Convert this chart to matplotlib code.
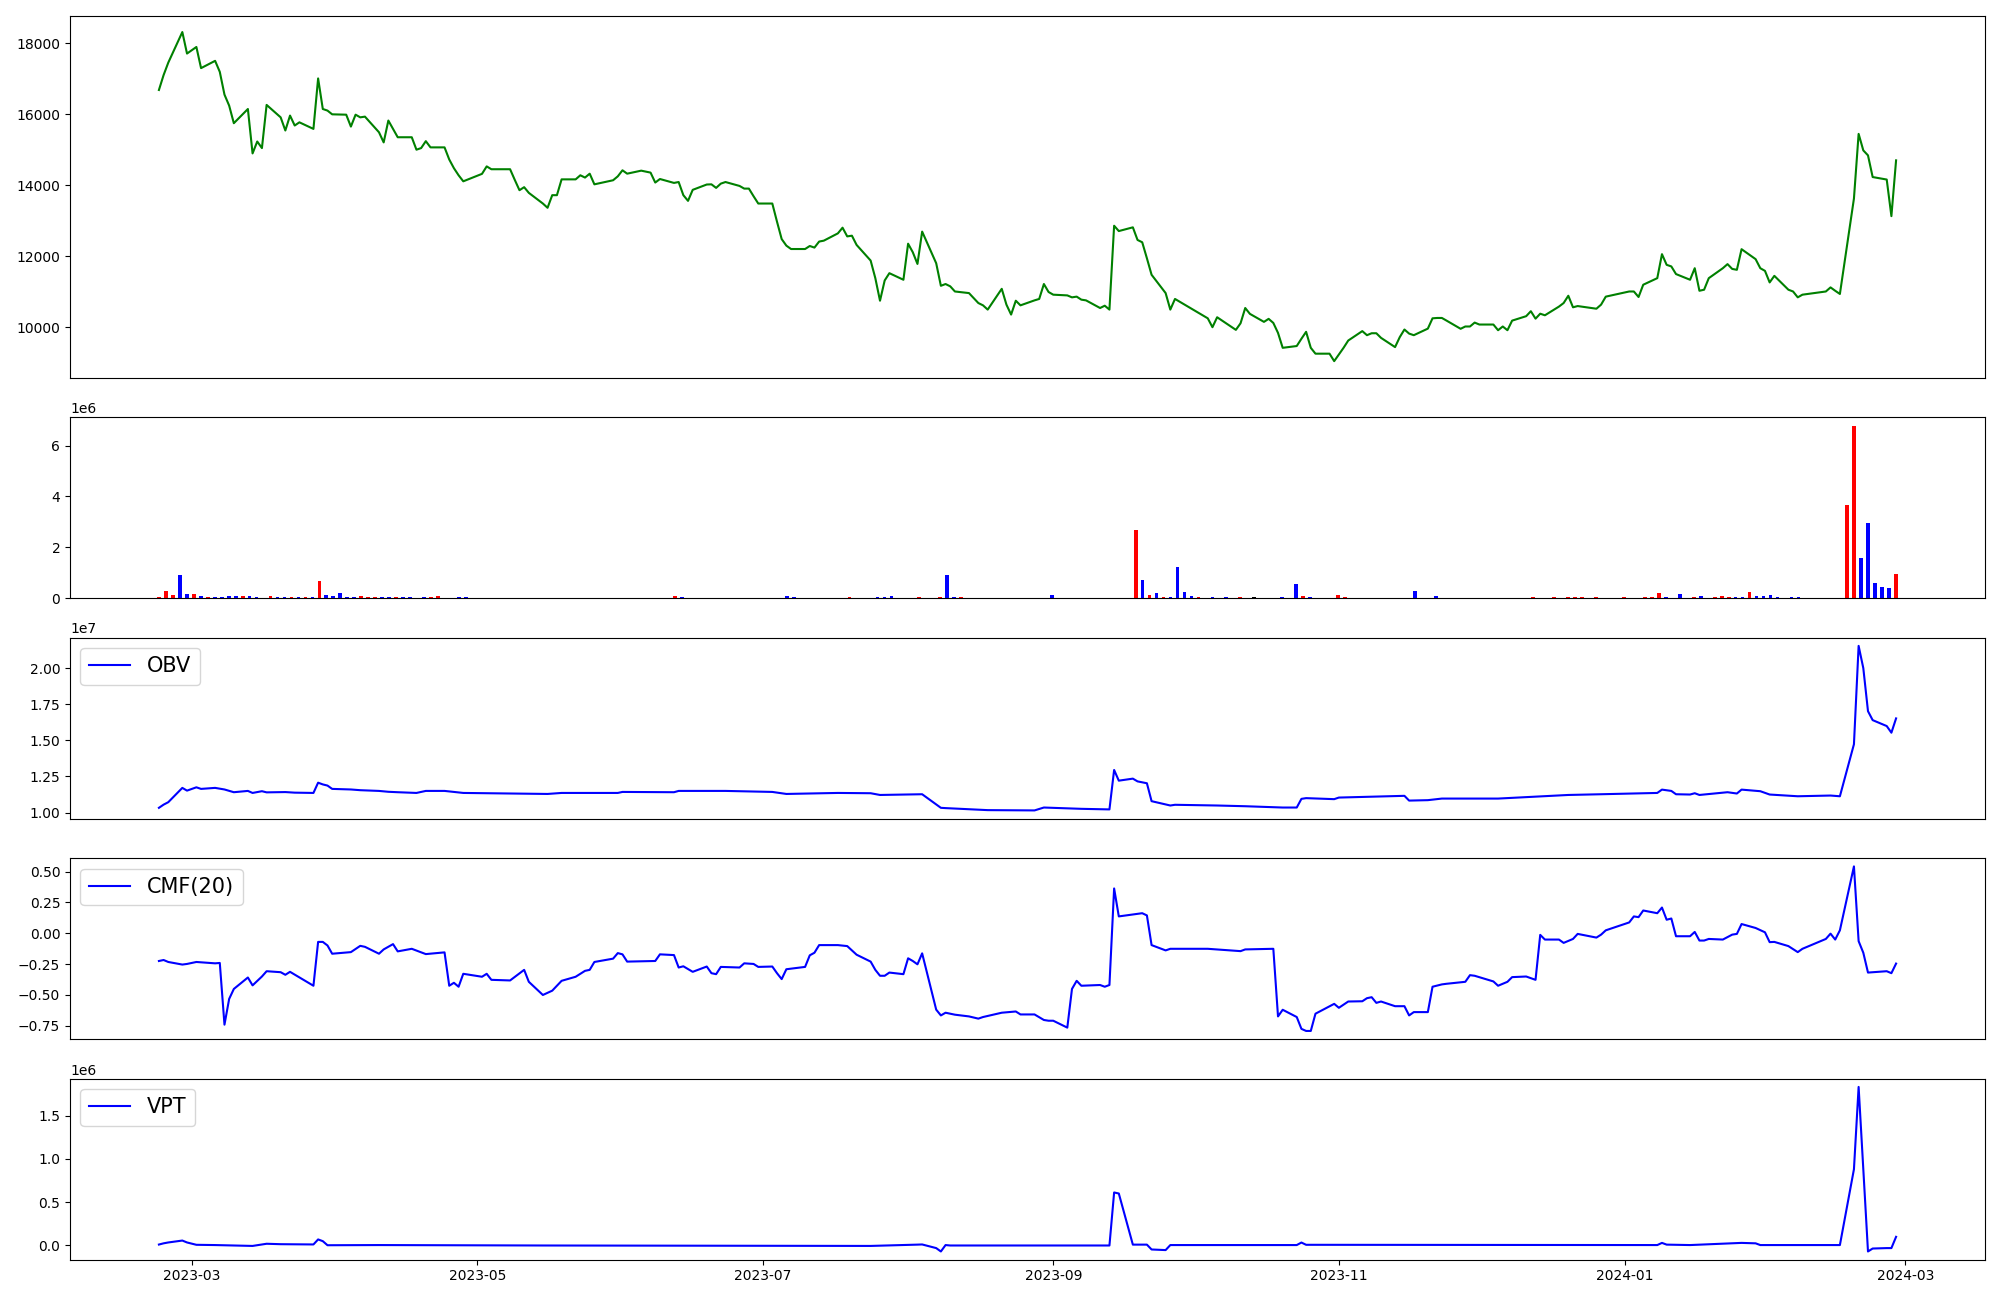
import matplotlib
matplotlib.use("Agg")
import matplotlib.pyplot as plt
import matplotlib.dates as mdates
import numpy as np
import pandas as pd

# closing price (date, close)
price = [
    ("2023-02-22", 16680), ("2023-02-23", 17100), ("2023-02-24", 17450), ("2023-02-27", 18310),
    ("2023-02-28", 17705), ("2023-03-02", 17890), ("2023-03-03", 17295), ("2023-03-06", 17500),
    ("2023-03-07", 17190), ("2023-03-08", 16550), ("2023-03-09", 16240), ("2023-03-10", 15745),
    ("2023-03-13", 16145), ("2023-03-14", 14895), ("2023-03-15", 15230), ("2023-03-16", 15045),
    ("2023-03-17", 16260), ("2023-03-20", 15910), ("2023-03-21", 15540), ("2023-03-22", 15960),
    ("2023-03-23", 15680), ("2023-03-24", 15770), ("2023-03-27", 15585), ("2023-03-28", 17005),
    ("2023-03-29", 16145), ("2023-03-30", 16100), ("2023-03-31", 15995), ("2023-04-03", 15985),
    ("2023-04-04", 15650), ("2023-04-05", 15985), ("2023-04-06", 15910), ("2023-04-07", 15930),
    ("2023-04-10", 15490), ("2023-04-11", 15205), ("2023-04-12", 15820), ("2023-04-13", 15585),
    ("2023-04-14", 15350), ("2023-04-17", 15350), ("2023-04-18", 15000), ("2023-04-19", 15045),
    ("2023-04-20", 15240), ("2023-04-21", 15065), ("2023-04-24", 15065), ("2023-04-25", 14725),
    ("2023-04-26", 14480), ("2023-04-27", 14280), ("2023-04-28", 14110), ("2023-05-02", 14320),
    ("2023-05-03", 14530), ("2023-05-04", 14450), ("2023-05-08", 14450), ("2023-05-09", 14150),
    ("2023-05-10", 13860), ("2023-05-11", 13945), ("2023-05-12", 13785), ("2023-05-15", 13485),
    ("2023-05-16", 13365), ("2023-05-17", 13720), ("2023-05-18", 13720), ("2023-05-19", 14165),
    ("2023-05-22", 14165), ("2023-05-23", 14280), ("2023-05-24", 14215), ("2023-05-25", 14325),
    ("2023-05-26", 14025), ("2023-05-30", 14140), ("2023-05-31", 14250), ("2023-06-01", 14420),
    ("2023-06-02", 14325), ("2023-06-05", 14410), ("2023-06-07", 14355), ("2023-06-08", 14075),
    ("2023-06-09", 14175), ("2023-06-12", 14065), ("2023-06-13", 14090), ("2023-06-14", 13720),
    ("2023-06-15", 13560), ("2023-06-16", 13870), ("2023-06-19", 14020), ("2023-06-20", 14025),
    ("2023-06-21", 13925), ("2023-06-22", 14045), ("2023-06-23", 14090), ("2023-06-26", 13980),
    ("2023-06-27", 13905), ("2023-06-28", 13905), ("2023-06-29", 13690), ("2023-06-30", 13485),
    ("2023-07-03", 13485), ("2023-07-04", 12975), ("2023-07-05", 12485), ("2023-07-06", 12300),
    ("2023-07-07", 12205), ("2023-07-10", 12205), ("2023-07-11", 12290), ("2023-07-12", 12245),
    ("2023-07-13", 12415), ("2023-07-14", 12440), ("2023-07-17", 12645), ("2023-07-18", 12805),
    ("2023-07-19", 12560), ("2023-07-20", 12580), ("2023-07-21", 12320), ("2023-07-24", 11880),
    ("2023-07-25", 11385), ("2023-07-26", 10750), ("2023-07-27", 11320), ("2023-07-28", 11525),
    ("2023-07-31", 11340), ("2023-08-01", 12355), ("2023-08-02", 12115), ("2023-08-03", 11785),
    ("2023-08-04", 12695), ("2023-08-07", 11805), ("2023-08-08", 11170), ("2023-08-09", 11220),
    ("2023-08-10", 11155), ("2023-08-11", 11010), ("2023-08-14", 10965), ("2023-08-16", 10685),
    ("2023-08-17", 10620), ("2023-08-18", 10500), ("2023-08-21", 11085), ("2023-08-22", 10640),
    ("2023-08-23", 10360), ("2023-08-24", 10750), ("2023-08-25", 10620), ("2023-08-28", 10760),
    ("2023-08-29", 10800), ("2023-08-30", 11220), ("2023-08-31", 10995), ("2023-09-01", 10920),
    ("2023-09-04", 10900), ("2023-09-05", 10845), ("2023-09-06", 10865), ("2023-09-07", 10780),
    ("2023-09-08", 10760), ("2023-09-11", 10545), ("2023-09-12", 10610), ("2023-09-13", 10500),
    ("2023-09-14", 12860), ("2023-09-15", 12710), ("2023-09-18", 12815), ("2023-09-19", 12460),
    ("2023-09-20", 12395), ("2023-09-21", 11945), ("2023-09-22", 11480), ("2023-09-25", 10965),
    ("2023-09-26", 10500), ("2023-09-27", 10800), ("2023-10-04", 10255), ("2023-10-05", 10005),
    ("2023-10-06", 10285), ("2023-10-10", 9930), ("2023-10-11", 10115), ("2023-10-12", 10545),
    ("2023-10-13", 10380), ("2023-10-16", 10155), ("2023-10-17", 10240), ("2023-10-18", 10125),
    ("2023-10-19", 9845), ("2023-10-20", 9425), ("2023-10-23", 9475), ("2023-10-24", 9680),
    ("2023-10-25", 9875), ("2023-10-26", 9425), ("2023-10-27", 9260), ("2023-10-30", 9260),
    ("2023-10-31", 9050), ("2023-11-01", 9240), ("2023-11-02", 9425), ("2023-11-03", 9630),
    ("2023-11-06", 9895), ("2023-11-07", 9780), ("2023-11-08", 9835), ("2023-11-09", 9835),
    ("2023-11-10", 9705), ("2023-11-13", 9445), ("2023-11-14", 9725), ("2023-11-15", 9940),
    ("2023-11-16", 9825), ("2023-11-17", 9780), ("2023-11-20", 9965), ("2023-11-21", 10255),
    ("2023-11-22", 10265), ("2023-11-23", 10265), ("2023-11-24", 10190), ("2023-11-27", 9960),
    ("2023-11-28", 10025), ("2023-11-29", 10025), ("2023-11-30", 10135), ("2023-12-01", 10080),
    ("2023-12-04", 10080), ("2023-12-05", 9920), ("2023-12-06", 10025), ("2023-12-07", 9920),
    ("2023-12-08", 10190), ("2023-12-11", 10315), ("2023-12-12", 10455), ("2023-12-13", 10245),
    ("2023-12-14", 10385), ("2023-12-15", 10340), ("2023-12-18", 10585), ("2023-12-19", 10685),
    ("2023-12-20", 10890), ("2023-12-21", 10565), ("2023-12-22", 10600), ("2023-12-26", 10525),
    ("2023-12-27", 10640), ("2023-12-28", 10865), ("2024-01-02", 11010), ("2024-01-03", 11010),
    ("2024-01-04", 10855), ("2024-01-05", 11200), ("2024-01-08", 11385), ("2024-01-09", 12060),
    ("2024-01-10", 11760), ("2024-01-11", 11715), ("2024-01-12", 11500), ("2024-01-15", 11340),
    ("2024-01-16", 11665), ("2024-01-17", 11030), ("2024-01-18", 11060), ("2024-01-19", 11385),
    ("2024-01-22", 11665), ("2024-01-23", 11780), ("2024-01-24", 11645), ("2024-01-25", 11620),
    ("2024-01-26", 12200), ("2024-01-29", 11920), ("2024-01-30", 11665), ("2024-01-31", 11590),
    ("2024-02-01", 11265), ("2024-02-02", 11450), ("2024-02-05", 11060), ("2024-02-06", 11010),
    ("2024-02-07", 10845), ("2024-02-08", 10920), ("2024-02-13", 11010), ("2024-02-14", 11125),
    ("2024-02-15", 11030), ("2024-02-16", 10940), ("2024-02-19", 13625), ("2024-02-20", 15445),
    ("2024-02-21", 14980), ("2024-02-22", 14840), ("2024-02-23", 14230), ("2024-02-26", 14160),
    ("2024-02-27", 13130), ("2024-02-28", 14700),
]

# volume bars: (bar number, volume in millions, colour); 250 bars, empty ones left out
n_bars = 250
volume = [
    (0, 0.04, "red"), (1, 0.27, "red"), (2, 0.12, "red"), (3, 0.90, "blue"), (4, 0.16, "blue"),
    (5, 0.16, "red"), (6, 0.08, "blue"), (7, 0.04, "red"), (8, 0.04, "blue"), (9, 0.04, "blue"),
    (10, 0.08, "blue"), (11, 0.08, "blue"), (12, 0.08, "red"), (13, 0.08, "blue"), (14, 0.04, "blue"),
    (16, 0.08, "red"), (17, 0.04, "blue"), (18, 0.04, "blue"), (19, 0.04, "red"), (20, 0.04, "blue"),
    (21, 0.04, "red"), (22, 0.04, "blue"), (23, 0.67, "red"), (24, 0.12, "blue"), (25, 0.08, "blue"),
    (26, 0.20, "blue"), (27, 0.04, "blue"), (28, 0.04, "blue"), (29, 0.08, "red"), (30, 0.04, "red"),
    (31, 0.04, "red"), (32, 0.04, "blue"), (33, 0.04, "blue"), (34, 0.04, "red"), (35, 0.04, "blue"),
    (36, 0.04, "blue"), (38, 0.04, "blue"), (39, 0.04, "red"), (40, 0.08, "red"), (43, 0.04, "blue"),
    (44, 0.04, "blue"), (74, 0.08, "red"), (75, 0.04, "blue"), (90, 0.08, "blue"), (91, 0.04, "blue"),
    (99, 0.04, "red"), (103, 0.04, "blue"), (104, 0.04, "blue"), (105, 0.08, "blue"), (109, 0.04, "red"),
    (112, 0.04, "red"), (113, 0.90, "blue"), (114, 0.04, "blue"), (115, 0.04, "red"), (128, 0.12, "blue"),
    (140, 2.67, "red"), (141, 0.71, "blue"), (142, 0.12, "red"), (143, 0.20, "blue"), (144, 0.04, "red"),
    (145, 0.04, "blue"), (146, 1.22, "blue"), (147, 0.24, "blue"), (148, 0.08, "blue"), (149, 0.04, "red"),
    (151, 0.04, "blue"), (153, 0.04, "blue"), (155, 0.04, "red"), (157, 0.04, "black"), (161, 0.04, "blue"),
    (163, 0.55, "blue"), (164, 0.08, "red"), (165, 0.04, "blue"), (169, 0.12, "red"), (170, 0.04, "red"),
    (180, 0.27, "blue"), (183, 0.08, "blue"), (197, 0.04, "red"), (200, 0.04, "red"), (202, 0.04, "red"),
    (203, 0.04, "red"), (204, 0.04, "red"), (206, 0.04, "red"), (210, 0.04, "red"), (213, 0.04, "red"),
    (214, 0.04, "red"), (215, 0.20, "red"), (216, 0.04, "blue"), (218, 0.16, "blue"), (220, 0.04, "red"),
    (221, 0.08, "blue"), (223, 0.04, "red"), (224, 0.08, "red"), (225, 0.04, "red"), (226, 0.04, "blue"),
    (227, 0.04, "blue"), (228, 0.24, "red"), (229, 0.08, "blue"), (230, 0.08, "blue"), (231, 0.12, "blue"),
    (232, 0.04, "blue"), (234, 0.04, "blue"), (235, 0.04, "blue"), (242, 3.65, "red"), (243, 6.78, "red"),
    (244, 1.57, "blue"), (245, 2.94, "blue"), (246, 0.59, "blue"), (247, 0.43, "blue"), (248, 0.39, "blue"),
    (249, 0.94, "red"),
]

# on balance volume, in 1e7
obv = [
    ("2023-02-22", 1.033), ("2023-02-23", 1.055), ("2023-02-24", 1.072), ("2023-02-27", 1.171),
    ("2023-02-28", 1.152), ("2023-03-02", 1.175), ("2023-03-03", 1.164), ("2023-03-06", 1.171),
    ("2023-03-08", 1.160), ("2023-03-10", 1.141), ("2023-03-13", 1.150), ("2023-03-14", 1.136),
    ("2023-03-16", 1.148), ("2023-03-17", 1.140), ("2023-03-21", 1.142), ("2023-03-23", 1.138),
    ("2023-03-27", 1.136), ("2023-03-28", 1.207), ("2023-03-29", 1.195), ("2023-03-30", 1.187),
    ("2023-03-31", 1.164), ("2023-04-04", 1.160), ("2023-04-06", 1.155), ("2023-04-10", 1.150),
    ("2023-04-12", 1.144), ("2023-04-14", 1.141), ("2023-04-18", 1.136), ("2023-04-20", 1.150),
    ("2023-04-24", 1.150), ("2023-04-28", 1.136), ("2023-05-16", 1.129), ("2023-05-19", 1.136),
    ("2023-05-31", 1.136), ("2023-06-01", 1.143), ("2023-06-12", 1.141), ("2023-06-13", 1.150),
    ("2023-06-23", 1.150), ("2023-07-03", 1.143), ("2023-07-06", 1.129), ("2023-07-17", 1.136),
    ("2023-07-24", 1.134), ("2023-07-26", 1.122), ("2023-08-04", 1.127), ("2023-08-08", 1.033),
    ("2023-08-09", 1.031), ("2023-08-18", 1.017), ("2023-08-28", 1.015), ("2023-08-30", 1.035),
    ("2023-09-07", 1.026), ("2023-09-13", 1.022), ("2023-09-14", 1.295), ("2023-09-15", 1.221),
    ("2023-09-18", 1.235), ("2023-09-19", 1.216), ("2023-09-21", 1.203), ("2023-09-22", 1.079),
    ("2023-09-26", 1.049), ("2023-09-27", 1.054), ("2023-10-06", 1.049), ("2023-10-12", 1.044),
    ("2023-10-20", 1.035), ("2023-10-23", 1.035), ("2023-10-24", 1.095), ("2023-10-25", 1.100),
    ("2023-10-31", 1.093), ("2023-11-01", 1.104), ("2023-11-15", 1.116), ("2023-11-16", 1.083),
    ("2023-11-20", 1.086), ("2023-11-23", 1.097), ("2023-12-05", 1.097), ("2023-12-20", 1.122),
    ("2023-12-27", 1.127), ("2024-01-08", 1.136), ("2024-01-09", 1.159), ("2024-01-11", 1.150),
    ("2024-01-12", 1.127), ("2024-01-15", 1.125), ("2024-01-16", 1.134), ("2024-01-17", 1.122),
    ("2024-01-23", 1.141), ("2024-01-25", 1.132), ("2024-01-26", 1.159), ("2024-01-30", 1.148),
    ("2024-02-01", 1.125), ("2024-02-07", 1.113), ("2024-02-14", 1.118), ("2024-02-16", 1.113),
    ("2024-02-19", 1.473), ("2024-02-20", 2.154), ("2024-02-21", 2.000), ("2024-02-22", 1.702),
    ("2024-02-23", 1.640), ("2024-02-26", 1.599), ("2024-02-27", 1.553), ("2024-02-28", 1.652),
]

# chaikin money flow, 20 days
cmf = [
    ("2023-02-22", -0.225), ("2023-02-23", -0.217), ("2023-02-24", -0.233), ("2023-02-27", -0.254),
    ("2023-02-28", -0.249), ("2023-03-02", -0.233), ("2023-03-06", -0.244), ("2023-03-07", -0.241),
    ("2023-03-08", -0.742), ("2023-03-09", -0.533), ("2023-03-10", -0.452), ("2023-03-13", -0.359),
    ("2023-03-14", -0.423), ("2023-03-16", -0.351), ("2023-03-17", -0.308), ("2023-03-20", -0.316),
    ("2023-03-21", -0.337), ("2023-03-22", -0.313), ("2023-03-27", -0.426), ("2023-03-28", -0.070),
    ("2023-03-29", -0.070), ("2023-03-30", -0.099), ("2023-03-31", -0.166), ("2023-04-04", -0.153),
    ("2023-04-06", -0.102), ("2023-04-07", -0.110), ("2023-04-10", -0.166), ("2023-04-11", -0.131),
    ("2023-04-13", -0.088), ("2023-04-14", -0.147), ("2023-04-17", -0.126), ("2023-04-20", -0.169),
    ("2023-04-24", -0.155), ("2023-04-25", -0.426), ("2023-04-26", -0.402), ("2023-04-27", -0.434),
    ("2023-04-28", -0.329), ("2023-05-02", -0.353), ("2023-05-03", -0.329), ("2023-05-04", -0.378),
    ("2023-05-08", -0.383), ("2023-05-11", -0.297), ("2023-05-12", -0.394), ("2023-05-15", -0.501),
    ("2023-05-17", -0.466), ("2023-05-19", -0.386), ("2023-05-22", -0.353), ("2023-05-24", -0.305),
    ("2023-05-25", -0.297), ("2023-05-26", -0.233), ("2023-05-30", -0.206), ("2023-05-31", -0.161),
    ("2023-06-01", -0.171), ("2023-06-02", -0.230), ("2023-06-08", -0.225), ("2023-06-09", -0.171),
    ("2023-06-12", -0.177), ("2023-06-13", -0.278), ("2023-06-14", -0.268), ("2023-06-16", -0.313),
    ("2023-06-19", -0.270), ("2023-06-20", -0.324), ("2023-06-21", -0.332), ("2023-06-22", -0.273),
    ("2023-06-26", -0.278), ("2023-06-27", -0.244), ("2023-06-29", -0.249), ("2023-06-30", -0.273),
    ("2023-07-03", -0.270), ("2023-07-04", -0.324), ("2023-07-05", -0.372), ("2023-07-06", -0.292),
    ("2023-07-10", -0.273), ("2023-07-11", -0.179), ("2023-07-12", -0.158), ("2023-07-13", -0.096),
    ("2023-07-17", -0.096), ("2023-07-19", -0.104), ("2023-07-21", -0.174), ("2023-07-24", -0.230),
    ("2023-07-25", -0.297), ("2023-07-26", -0.345), ("2023-07-27", -0.345), ("2023-07-28", -0.319),
    ("2023-07-31", -0.332), ("2023-08-01", -0.203), ("2023-08-02", -0.225), ("2023-08-03", -0.252),
    ("2023-08-04", -0.163), ("2023-08-07", -0.620), ("2023-08-08", -0.667), ("2023-08-09", -0.645),
    ("2023-08-11", -0.661), ("2023-08-14", -0.675), ("2023-08-16", -0.693), ("2023-08-17", -0.680),
    ("2023-08-21", -0.645), ("2023-08-24", -0.635), ("2023-08-25", -0.659), ("2023-08-28", -0.659),
    ("2023-08-30", -0.704), ("2023-08-31", -0.710), ("2023-09-01", -0.710), ("2023-09-04", -0.766),
    ("2023-09-05", -0.452), ("2023-09-06", -0.386), ("2023-09-07", -0.426), ("2023-09-11", -0.420),
    ("2023-09-12", -0.434), ("2023-09-13", -0.420), ("2023-09-14", 0.364), ("2023-09-15", 0.137),
    ("2023-09-20", 0.163), ("2023-09-21", 0.145), ("2023-09-22", -0.096), ("2023-09-25", -0.139),
    ("2023-09-26", -0.126), ("2023-10-04", -0.126), ("2023-10-11", -0.145), ("2023-10-12", -0.131),
    ("2023-10-18", -0.126), ("2023-10-19", -0.675), ("2023-10-20", -0.621), ("2023-10-23", -0.680),
    ("2023-10-24", -0.776), ("2023-10-25", -0.793), ("2023-10-26", -0.793), ("2023-10-27", -0.653),
    ("2023-10-31", -0.573), ("2023-11-01", -0.605), ("2023-11-03", -0.554), ("2023-11-06", -0.552),
    ("2023-11-07", -0.527), ("2023-11-08", -0.519), ("2023-11-09", -0.565), ("2023-11-10", -0.554),
    ("2023-11-13", -0.592), ("2023-11-15", -0.592), ("2023-11-16", -0.667), ("2023-11-17", -0.640),
    ("2023-11-20", -0.640), ("2023-11-21", -0.434), ("2023-11-23", -0.415), ("2023-11-24", -0.410),
    ("2023-11-28", -0.394), ("2023-11-29", -0.340), ("2023-11-30", -0.345), ("2023-12-04", -0.391),
    ("2023-12-05", -0.426), ("2023-12-07", -0.394), ("2023-12-08", -0.356), ("2023-12-11", -0.351),
    ("2023-12-13", -0.378), ("2023-12-14", -0.013), ("2023-12-15", -0.051), ("2023-12-18", -0.051),
    ("2023-12-19", -0.078), ("2023-12-21", -0.046), ("2023-12-22", -0.005), ("2023-12-26", -0.035),
    ("2023-12-27", -0.011), ("2023-12-28", 0.024), ("2024-01-02", 0.088), ("2024-01-03", 0.137),
    ("2024-01-04", 0.131), ("2024-01-05", 0.185), ("2024-01-08", 0.163), ("2024-01-09", 0.209),
    ("2024-01-10", 0.110), ("2024-01-11", 0.120), ("2024-01-12", -0.024), ("2024-01-15", -0.024),
    ("2024-01-16", 0.011), ("2024-01-17", -0.059), ("2024-01-18", -0.059), ("2024-01-19", -0.046),
    ("2024-01-22", -0.051), ("2024-01-24", -0.011), ("2024-01-25", -0.005), ("2024-01-26", 0.075),
    ("2024-01-29", 0.043), ("2024-01-31", 0.008), ("2024-02-01", -0.072), ("2024-02-02", -0.070),
    ("2024-02-05", -0.104), ("2024-02-07", -0.153), ("2024-02-08", -0.126), ("2024-02-13", -0.046),
    ("2024-02-14", -0.003), ("2024-02-15", -0.051), ("2024-02-16", 0.024), ("2024-02-19", 0.543),
    ("2024-02-20", -0.064), ("2024-02-21", -0.158), ("2024-02-22", -0.319), ("2024-02-26", -0.308),
    ("2024-02-27", -0.324), ("2024-02-28", -0.246),
]

# volume price trend, in 1e6
vpt = [
    ("2023-02-22", 0.011), ("2023-02-23", 0.025), ("2023-02-24", 0.035), ("2023-02-27", 0.057),
    ("2023-02-28", 0.035), ("2023-03-02", 0.008), ("2023-03-06", 0.005), ("2023-03-10", 0.0),
    ("2023-03-14", -0.005), ("2023-03-17", 0.02), ("2023-03-20", 0.015), ("2023-03-27", 0.012),
    ("2023-03-28", 0.07), ("2023-03-29", 0.05), ("2023-03-30", 0.003), ("2023-04-10", 0.005),
    ("2023-05-15", 0.0), ("2023-07-24", -0.005), ("2023-08-03", 0.01), ("2023-08-04", 0.012),
    ("2023-08-07", -0.03), ("2023-08-08", -0.069), ("2023-08-09", 0.005), ("2023-08-10", 0.0),
    ("2023-09-13", 0.0), ("2023-09-14", 0.612), ("2023-09-15", 0.600), ("2023-09-18", 0.01),
    ("2023-09-21", 0.01), ("2023-09-22", -0.046), ("2023-09-25", -0.053), ("2023-09-26", 0.005),
    ("2023-10-23", 0.005), ("2023-10-24", 0.034), ("2023-10-25", 0.008), ("2024-01-08", 0.005),
    ("2024-01-09", 0.03), ("2024-01-10", 0.01), ("2024-01-15", 0.005), ("2024-01-26", 0.03),
    ("2024-01-29", 0.025), ("2024-01-30", 0.005), ("2024-02-16", 0.005), ("2024-02-19", 0.88),
    ("2024-02-20", 1.83), ("2024-02-22", -0.069), ("2024-02-23", -0.035), ("2024-02-26", -0.03),
    ("2024-02-27", -0.03), ("2024-02-28", 0.10),
]


def split(pairs, scale=1.0):
    d = pd.to_datetime([p[0] for p in pairs])
    v = np.array([p[1] for p in pairs]) * scale
    return d, v


fig, axes = plt.subplots(5, 1, figsize=(20, 13), sharex=True,
                         gridspec_kw={"height_ratios": [2, 1, 1, 1, 1]})
fig.subplots_adjust(left=0.035, right=0.9925, top=0.988, bottom=0.031, hspace=0.182)

# price
d, v = split(price)
axes[0].plot(d, v, color="green")

# volume bars, spread evenly over the whole period
first, last = pd.Timestamp(price[0][0]), pd.Timestamp(price[-1][0])
slots = np.linspace(mdates.date2num(first), mdates.date2num(last), n_bars)
bx = mdates.num2date(slots[[b[0] for b in volume]])
axes[1].bar(bx, [b[1] * 1e6 for b in volume], width=0.8, color=[b[2] for b in volume])

# indicators
d, v = split(obv, 1e7)
axes[2].plot(d, v, color="blue", label="OBV")
d, v = split(cmf)
axes[3].plot(d, v, color="blue", label="CMF(20)")
d, v = split(vpt, 1e6)
axes[4].plot(d, v, color="blue", label="VPT")

for ax in axes[2:]:
    ax.legend(loc="upper left", fontsize=15)

# only the bottom panel shows the date ticks
for ax in axes[:4]:
    ax.tick_params(axis="x", bottom=False, labelbottom=False)

plt.savefig("out.png", dpi=100)
